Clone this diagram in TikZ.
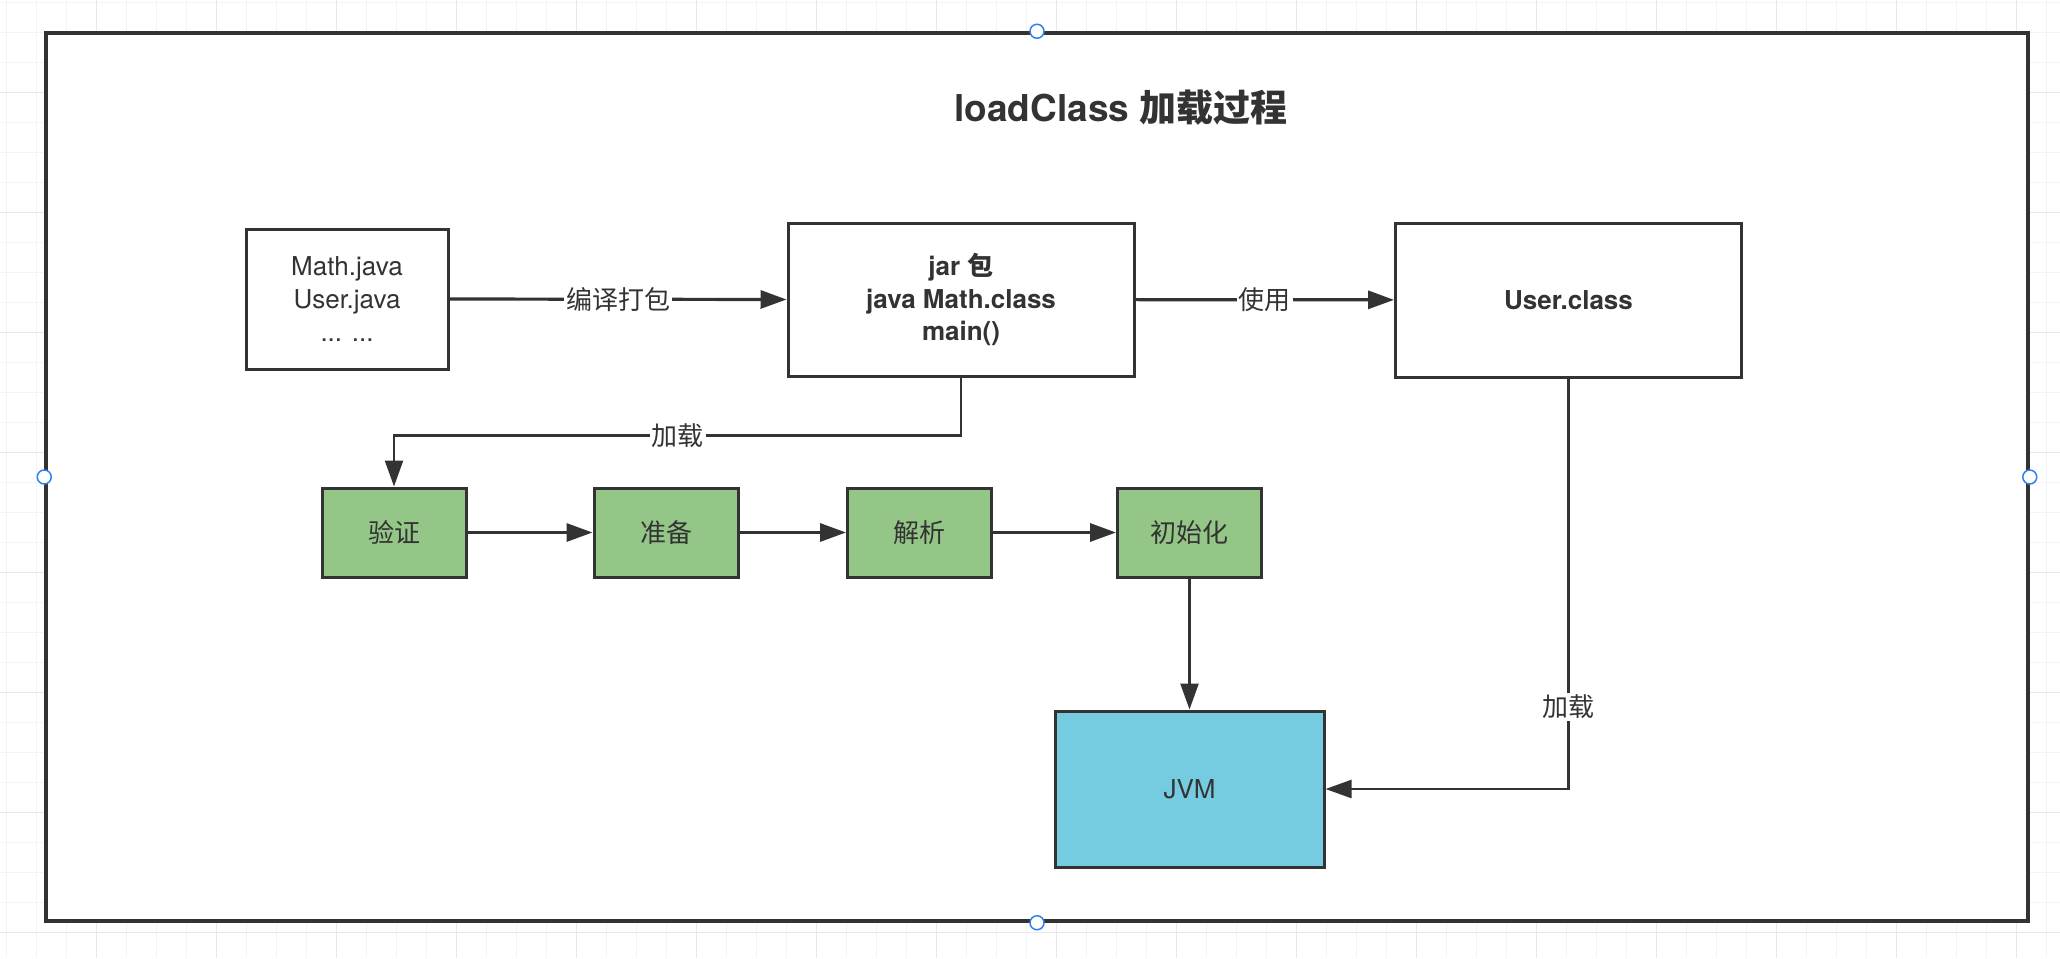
\documentclass[tikz,border=0pt]{standalone}
\usepackage{fontspec}
\setmainfont{TeX Gyre Heros}
\newfontfamily\cjk{Noto Sans CJK SC}
\usetikzlibrary{arrows.meta}

\definecolor{ink}{HTML}{333333}
\definecolor{stepgreen}{HTML}{93C687}
\definecolor{jvmblue}{HTML}{75CCE0}
\definecolor{gridlight}{HTML}{F4F4F4}
\definecolor{griddark}{HTML}{E8E8E8}
\definecolor{handleblue}{HTML}{2F7FF0}

\tikzset{
  box/.style={draw=ink, line width=3pt, rectangle, text=ink, align=center,
    inner sep=0pt, font=\fontsize{26}{33}\selectfont},
  boldbox/.style={box, font=\bfseries\fontsize{26}{32.5}\selectfont},
  stage/.style={box, fill=stepgreen, minimum width=144pt, minimum height=89pt,
    font=\cjk\fontsize{26}{30}\selectfont},
  link/.style={draw=ink, line width=3.2pt, -{Triangle[length=26pt,width=18pt]}},
  thinlink/.style={link, line width=2.4pt},
  tag/.style={fill=white, text=ink, inner sep=2pt, font=\cjk\fontsize{26}{30}\selectfont},
  handle/.style={circle, draw=handleblue, fill=white, line width=1.5pt,
    minimum size=14pt, inner sep=0pt}
}

\begin{document}
\begin{tikzpicture}[x=1pt, y=-1pt]
  \useasboundingbox (0,0) rectangle (2060,958);

  % Grid
  \foreach \gx in {6.7,36.7,...,2060} \draw[gridlight, line width=1pt] (\gx,0) -- (\gx,958);
  \foreach \gy in {2.7,32.7,...,958} \draw[gridlight, line width=1pt] (0,\gy) -- (2060,\gy);
  \foreach \gx in {96.7,216.7,...,2060} \draw[griddark, line width=1pt] (\gx,0) -- (\gx,958);
  \foreach \gy in {92.7,212.7,...,958} \draw[griddark, line width=1pt] (0,\gy) -- (2060,\gy);

  % Frame
  \node[draw=ink, fill=white, line width=3.5pt, minimum width=1982pt, minimum height=888pt,
    inner sep=0pt] (frame) at (1037,477) {};
  \node[handle] (hn) at (frame.north) {};
  \node[handle] (hs) at (frame.south) {};
  \node[handle] (hw) at (frame.west) {};
  \node[handle] (he) at (frame.east) {};

  \node[text=ink, font=\bfseries\fontsize{37}{40}\selectfont] (title) at (1121,108)
    {loadClass {\cjk 加载过程}};

  % Top row
  \node[box, minimum width=202pt, minimum height=140pt] (src) at (347,299)
    {Math.java\\User.java\\... ...};
  \node[boldbox, minimum width=346pt, minimum height=153pt] (jar) at (961,299.5)
    {jar {\cjk 包}\\java Math.class\\main()};
  \node[boldbox, minimum width=346pt, minimum height=154pt] (user) at (1568.5,300)
    {User.class};

  % Stages
  \node[stage] (verify) at (394,532.5) {验证};
  \node[stage] (prepare) at (666,532.5) {准备};
  \node[stage] (resolve) at (919.5,532.5) {解析};
  \node[stage] (init) at (1189.5,532.5) {初始化};

  \node[box, fill=jvmblue, minimum width=269pt, minimum height=156pt] (jvm) at (1189.5,789) {JVM};

  % Connectors
  \draw[link] (src.east) -- node[tag] {编译打包} (jar.west);
  \draw[link] (jar) -- node[tag] {使用} (user);
  \draw[thinlink] (jar.south) -- ++(0,58) -| node[tag, pos=0.25] {加载} (verify.north);
  \draw[link] (verify) -- (prepare);
  \draw[link] (prepare) -- (resolve);
  \draw[link] (resolve) -- (init);
  \draw[thinlink] (init) -- (jvm);
  \draw[thinlink] (user.south) |- node[tag, pos=0.4] {加载} (jvm.east);
\end{tikzpicture}
\end{document}
